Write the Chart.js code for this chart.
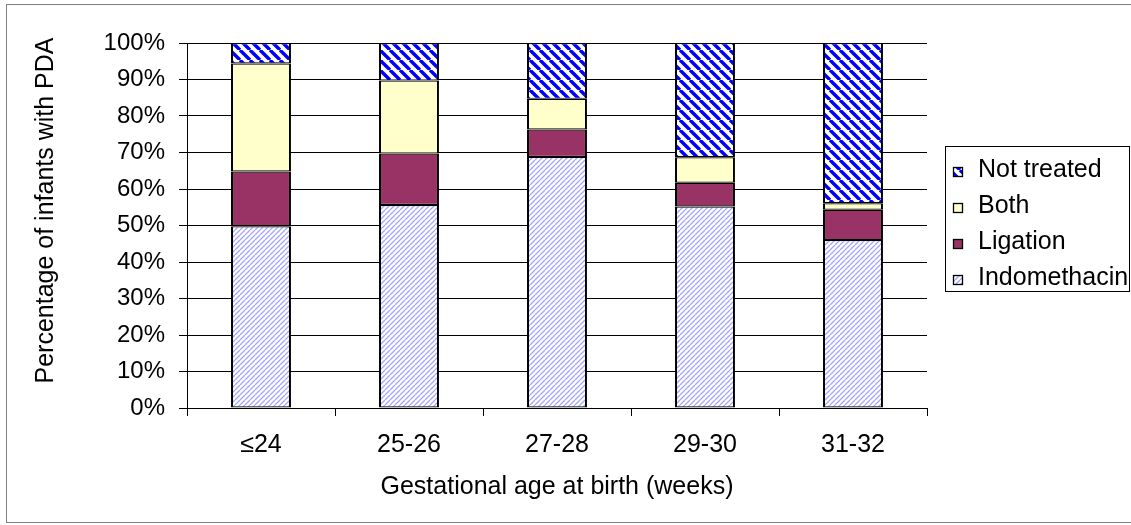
<!DOCTYPE html>
<html><head><meta charset="utf-8">
<script src="https://cdn.jsdelivr.net/npm/chart.js@4.4.1/dist/chart.umd.min.js"></script>
<style>html,body{margin:0;padding:0;background:#fff;overflow:hidden;}canvas{display:block;}</style>
</head><body>
<canvas id="c" width="1131" height="525"></canvas>
<script>
const categories = ['≤24', '25-26', '27-28', '29-30', '31-32'];
const indomethacin = [49.8, 55.6, 68.8, 55.2, 46.0];
const ligation = [15.0, 14.1, 7.5, 6.5, 8.3];
const both = [29.6, 20.0, 8.4, 7.0, 1.8];
const notTreated = [5.6, 10.3, 15.3, 31.3, 43.9];
const seriesLabels = ['Indomethacin', 'Ligation', 'Both', 'Not treated'];
const yTickLabels = ['0%', '10%', '20%', '30%', '40%', '50%', '60%', '70%', '80%', '90%', '100%'];
const yTitle = 'Percentage of infants with PDA';
const xTitle = 'Gestational age at birth (weeks)';

const FONT = '"Liberation Sans", Arial, sans-serif';
const canvas = document.getElementById('c');
const ctx = canvas.getContext('2d');

function stripes(size, color, lw, down) {
  const t = document.createElement('canvas');
  t.width = t.height = size;
  const g = t.getContext('2d');
  g.fillStyle = '#fff';
  g.fillRect(0, 0, size, size);
  g.strokeStyle = color;
  g.lineWidth = lw;
  g.beginPath();
  for (let k = -1; k <= 1; k++) {
    if (down) { g.moveTo(k * size, 0); g.lineTo(k * size + size, size); }
    else { g.moveTo(k * size, size); g.lineTo(k * size + size, 0); }
  }
  g.stroke();
  return ctx.createPattern(t, 'repeat');
}
const patIndo = stripes(5, '#a4a4ff', 1.3, false);
const patNT = stripes(10, '#0000ff', 3.4, true);

const fills = [patIndo, '#993366', '#ffffcc', patNT];
const values = [indomethacin, ligation, both, notTreated];

const bgPlugin = {
  id: 'bg',
  beforeDraw(chart) {
    const g = chart.ctx;
    g.save();
    g.fillStyle = '#fff';
    g.fillRect(0, 0, chart.width, chart.height);
    g.strokeStyle = '#808080';
    g.lineWidth = 1;
    g.strokeRect(6.5, 4.5, chart.width + 20, 518);
    g.restore();
  }
};

const yTitlePlugin = {
  id: 'yTitle',
  afterDraw(chart) {
    const g = chart.ctx;
    const a = chart.chartArea;
    g.save();
    g.translate(46.5, (a.top + a.bottom) / 2 - 15);
    g.rotate(-Math.PI / 2);
    g.font = '25px ' + FONT;
    g.fillStyle = '#000';
    g.textAlign = 'center';
    g.textBaseline = 'middle';
    g.fillText(yTitle, 0, 0);
    g.restore();
  }
};

const legendPlugin = {
  id: 'boxLegend',
  afterDraw(chart) {
    const g = chart.ctx;
    const a = chart.chartArea;
    const x0 = Math.round(a.right) + 18, y0 = 146, w = 184, h = 145;
    g.save();
    g.fillStyle = '#fff';
    g.fillRect(x0, y0, w, h);
    g.strokeStyle = '#000';
    g.lineWidth = 1;
    g.strokeRect(x0 + 0.5, y0 + 0.5, w, h);
    const ds = chart.data.datasets.slice().reverse();
    g.font = '25px ' + FONT;
    g.textBaseline = 'alphabetic';
    g.textAlign = 'left';
    ds.forEach((d, i) => {
      const base = y0 + 31 + 36 * i;
      const sx = x0 + 8;
      g.fillStyle = d.backgroundColor;
      g.fillRect(sx, base - 10, 10, 10);
      g.strokeStyle = '#000';
      g.lineWidth = 1.3;
      g.strokeRect(sx + 0.5, base - 9.5, 9, 9);
      g.fillStyle = '#000';
      g.fillText(d.label, x0 + 33, base);
    });
    g.restore();
  }
};

new Chart(ctx, {
  type: 'bar',
  data: {
    labels: categories,
    datasets: seriesLabels.map((lab, i) => ({
      label: lab,
      data: values[i],
      backgroundColor: fills[i],
      borderColor: '#000',
      borderWidth: {top: 1.2, bottom: 1.2, left: 2, right: 2},
      borderSkipped: false,
      barPercentage: 0.405,
      categoryPercentage: 1
    }))
  },
  options: {
    responsive: false,
    animation: false,
    devicePixelRatio: 1,
    layout: {padding: {top: 43, right: 204, bottom: 0, left: 0}},
    plugins: {legend: {display: false}, tooltip: {enabled: false}},
    scales: {
      x: {
        stacked: true,
        grid: {display: true, drawOnChartArea: false, color: '#000', tickLength: 8, offset: true},
        border: {display: true, color: '#000'},
        ticks: {color: '#000', font: {family: FONT, size: 25}, padding: 14, maxRotation: 0},
        title: {display: true, text: xTitle, color: '#000', font: {family: FONT, size: 25}, padding: {top: 0, bottom: 23}},
        afterFit(s) { s.height = 117; }
      },
      y: {
        stacked: true,
        min: 0, max: 100,
        ticks: {stepSize: 10, color: '#000', font: {family: FONT, size: 24}, padding: 14,
          callback: (v) => yTickLabels[Math.round(v / 10)]},
        grid: {color: '#000', tickLength: 8},
        border: {display: true, color: '#000'},
        title: {display: false, text: yTitle},
        afterFit(s) { s.width = 187; }
      }
    }
  },
  plugins: [bgPlugin, yTitlePlugin, legendPlugin]
});
</script>
</body></html>
